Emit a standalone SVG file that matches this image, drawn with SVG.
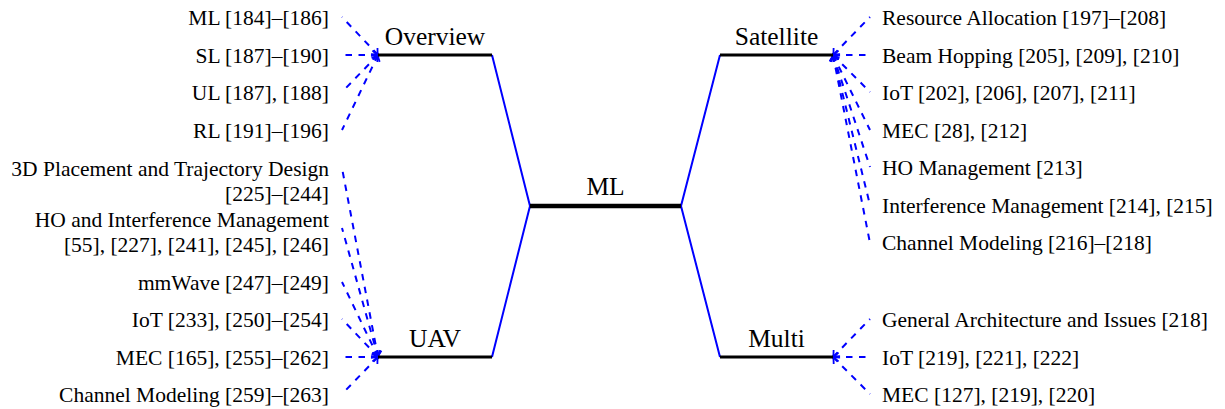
<svg xmlns="http://www.w3.org/2000/svg" width="1225" height="409" viewBox="0 0 1225 409">
<style>
text{font-family:"Liberation Serif","Times New Roman",serif;fill:#000}
.lbl{font-size:21.5px}
.l{text-anchor:end}
.hd{font-size:25.5px;text-anchor:middle}
.bar{stroke:#000;stroke-width:3.2;fill:none}
.trunk{stroke:#0000ff;stroke-width:2;fill:none}
.dash{stroke:#0000ff;stroke-width:2;fill:none;stroke-dasharray:6.5 6.5;marker-start:url(#arr)}
</style>
<defs>
<marker id="arr" viewBox="-7 -6 9 12" refX="0" refY="0" markerWidth="9" markerHeight="12" orient="auto-start-reverse" markerUnits="userSpaceOnUse">
<path d="M-5.5,-4.5 Q-2,-1 0,0 Q-2,1 -5.5,4.5" fill="none" stroke="#0000ff" stroke-width="1.8"/>
</marker>
</defs>
<rect width="1225" height="409" fill="#fff"/>
<g id="connectors">
<path class="trunk" d="M492,55 L530,206 L492,357"/>
<path class="trunk" d="M720,55 L681,206 L720,357"/>
<path class="dash" d="M378,55 L342,17"/>
<path class="dash" d="M378,55 L342,55"/>
<path class="dash" d="M378,55 L342,92"/>
<path class="dash" d="M378,55 L342,130"/>
<path class="dash" d="M378,357 L342,168"/>
<path class="dash" d="M378,357 L342,228"/>
<path class="dash" d="M378,357 L342,282"/>
<path class="dash" d="M378,357 L342,319"/>
<path class="dash" d="M378,357 L342,357"/>
<path class="dash" d="M378,357 L342,394"/>
<path class="dash" d="M833,55 L870,17"/>
<path class="dash" d="M833,55 L870,55"/>
<path class="dash" d="M833,55 L870,92"/>
<path class="dash" d="M833,55 L870,130"/>
<path class="dash" d="M833,55 L870,167"/>
<path class="dash" d="M833,55 L870,205"/>
<path class="dash" d="M833,55 L870,243"/>
<path class="dash" d="M833,357 L870,319"/>
<path class="dash" d="M833,357 L870,357"/>
<path class="dash" d="M833,357 L870,394"/>
</g>
<g id="node-ml">
<line class="bar" x1="530" y1="206" x2="681" y2="206" style="stroke-width:4.5"/>
<text class="hd" x="605.5" y="195">ML</text>
</g>
<g id="node-overview">
<line class="bar" x1="378" y1="55" x2="492" y2="55"/>
<text class="hd" x="435" y="45">Overview</text>
</g>
<g id="node-uav">
<line class="bar" x1="378" y1="357" x2="492" y2="357"/>
<text class="hd" x="435" y="347">UAV</text>
</g>
<g id="node-satellite">
<line class="bar" x1="720" y1="55" x2="833" y2="55"/>
<text class="hd" x="776.5" y="45">Satellite</text>
</g>
<g id="node-multi">
<line class="bar" x1="720" y1="357" x2="833" y2="357"/>
<text class="hd" x="776.5" y="347">Multi</text>
</g>
<g id="ov-ml"><text class="lbl l" x="329" y="25">ML [184]–[186]</text></g>
<g id="ov-sl"><text class="lbl l" x="329" y="63">SL [187]–[190]</text></g>
<g id="ov-ul"><text class="lbl l" x="329" y="100">UL [187], [188]</text></g>
<g id="ov-rl"><text class="lbl l" x="329" y="138">RL [191]–[196]</text></g>
<g id="uav-3d"><text class="lbl l" x="329" y="176">3D Placement and Trajectory Design</text><text class="lbl l" x="329" y="201">[225]–[244]</text></g>
<g id="uav-ho"><text class="lbl l" x="329" y="227">HO and Interference Management</text><text class="lbl l" x="329" y="252">[55], [227], [241], [245], [246]</text></g>
<g id="uav-mmwave"><text class="lbl l" x="329" y="290">mmWave [247]–[249]</text></g>
<g id="uav-iot"><text class="lbl l" x="329" y="327">IoT [233], [250]–[254]</text></g>
<g id="uav-mec"><text class="lbl l" x="329" y="365">MEC [165], [255]–[262]</text></g>
<g id="uav-ch"><text class="lbl l" x="329" y="402">Channel Modeling [259]–[263]</text></g>
<g id="sat-ra"><text class="lbl" x="882" y="25">Resource Allocation [197]–[208]</text></g>
<g id="sat-bh"><text class="lbl" x="882" y="63">Beam Hopping [205], [209], [210]</text></g>
<g id="sat-iot"><text class="lbl" x="882" y="100">IoT [202], [206], [207], [211]</text></g>
<g id="sat-mec"><text class="lbl" x="882" y="138">MEC [28], [212]</text></g>
<g id="sat-ho"><text class="lbl" x="882" y="175">HO Management [213]</text></g>
<g id="sat-im"><text class="lbl" x="882" y="213">Interference Management [214], [215]</text></g>
<g id="sat-ch"><text class="lbl" x="882" y="250">Channel Modeling [216]–[218]</text></g>
<g id="mu-ga"><text class="lbl" x="882" y="327">General Architecture and Issues [218]</text></g>
<g id="mu-iot"><text class="lbl" x="882" y="365">IoT [219], [221], [222]</text></g>
<g id="mu-mec"><text class="lbl" x="882" y="402">MEC [127], [219], [220]</text></g>
</svg>
